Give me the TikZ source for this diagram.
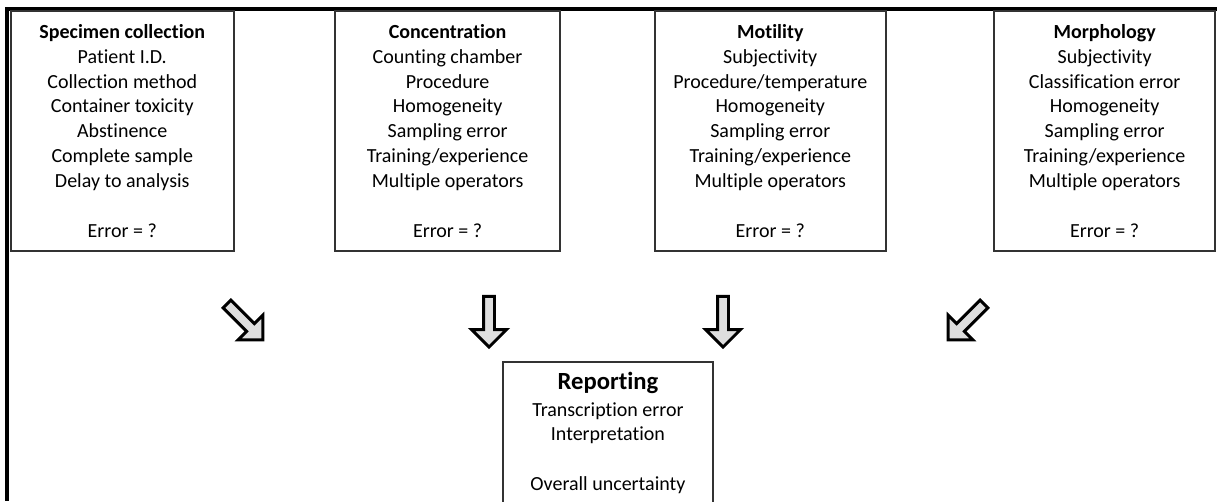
\documentclass[tikz,border=0pt]{standalone}
\usepackage{fontspec}
\setmainfont[Ligatures=NoCommon]{Carlito}
\usetikzlibrary{shapes.arrows}
\begin{document}
\begin{tikzpicture}[x=0.75pt,y=-0.75pt,
  box/.style={draw=black!80, line width=1.4pt, rectangle, inner sep=0pt,
    align=center, font=\fontsize{15}{18.7}\selectfont, anchor=north west},
  blockarrow/.style={single arrow, draw=black, fill=black!13, line width=2.2pt,
    inner xsep=0pt, inner ysep=3pt, minimum height=38pt, minimum width=1pt,
    single arrow head extend=9pt},
  frame/.style={line width=2.4pt, black}]
\useasboundingbox (0,0) rectangle (1217,501);
% outer frame (only top and left visible)
\coordinate (ftl) at (7,9);
\coordinate (ftr) at (1217,9);
\coordinate (fbl) at (7,501);
\draw[frame] (ftr) -- (ftl) -- (fbl);
% top boxes
\node[box, minimum width=167pt, minimum height=180pt] (spec) at (10,10)
  {\textbf{Specimen collection}\\Patient I.D.\\Collection method\\Container toxicity\\Abstinence\\Complete sample\\Delay to analysis\\[18.7pt]Error = ?};
\node[box, minimum width=169pt, minimum height=180pt] (conc) at (334,10)
  {\textbf{Concentration}\\Counting chamber\\Procedure\\Homogeneity\\Sampling error\\Training/experience\\Multiple operators\\[18.7pt]Error = ?};
\node[box, minimum width=173pt, minimum height=180pt] (moti) at (654,10)
  {\textbf{Motility}\\Subjectivity\\Procedure/temperature\\Homogeneity\\Sampling error\\Training/experience\\Multiple operators\\[18.7pt]Error = ?};
\node[box, minimum width=166pt, minimum height=180pt] (morph) at (993,10)
  {\textbf{Morphology}\\Subjectivity\\Classification error\\Homogeneity\\Sampling error\\Training/experience\\Multiple operators\\[18.7pt]Error = ?};
% reporting box
\node[box, minimum width=157.5pt, minimum height=107pt] (rep) at (502,361)
  {{\fontsize{18.5}{20}\selectfont\bfseries Reporting}\\[1pt]Transcription error\\Interpretation\\[18.7pt]Overall uncertainty};
% block arrows
\node[blockarrow, rotate=-45] (a1) at (243,320) {};
\node[blockarrow, rotate=-90] (a2) at (489,319) {};
\node[blockarrow, rotate=-90] (a3) at (723,319) {};
\node[blockarrow, rotate=-135] (a4) at (968,320) {};
\end{tikzpicture}
\end{document}
